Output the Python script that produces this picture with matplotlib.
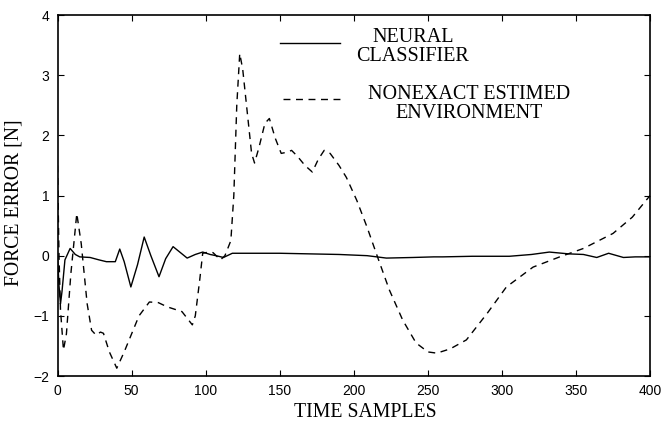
import matplotlib
matplotlib.use("Agg")
import matplotlib.pyplot as plt

# Neural classifier (solid)
neural_x = [0, 1, 2, 3, 5, 8.5, 12, 15, 22, 28, 33, 39, 42, 45, 49.5, 54, 58.5, 63, 68.5, 73, 78, 83, 87.5, 93, 98, 103, 107,
            112, 118, 130, 150, 170, 190, 209, 222, 240, 254, 260, 280, 305, 320, 332, 345, 355, 364, 372, 382, 390, 400]
neural_y = [0.0, -0.5, -0.8, -0.6, -0.07, 0.12, 0.02, -0.02, -0.03, -0.07, -0.1, -0.1, 0.11, -0.1, -0.52, -0.15, 0.31, 0.0,
            -0.35, -0.05, 0.15, 0.05, -0.04, 0.02, 0.06, 0.02, 0.0, -0.03, 0.04, 0.04, 0.04, 0.03, 0.02, 0.0, -0.04, -0.03,
            -0.02, -0.02, -0.01, -0.01, 0.02, 0.06, 0.03, 0.02, -0.03, 0.04, -0.03, -0.02, -0.02]

# Nonexact estimated environment (dashed)
env_x = [0, 1, 2, 4, 6, 9, 13, 16, 20, 23, 26, 29, 31, 35, 40, 45, 50, 55, 62, 68, 74, 84, 91, 93, 96, 98, 102, 105,
         110, 113, 117, 119, 121, 123, 125, 128, 131, 133, 136, 140, 143, 147, 151, 155, 158, 162, 167, 172, 176, 180,
         184, 190, 195, 202, 209, 216, 224, 233, 242, 250, 256, 265, 276, 290, 303, 321, 339, 355, 375, 388, 400]
env_y = [1.5, 0.0, -0.9, -1.57, -1.3, -0.3, 0.7, 0.2, -0.8, -1.24, -1.32, -1.27, -1.29, -1.6, -1.87, -1.6, -1.3, -1.0,
         -0.77, -0.78, -0.85, -0.93, -1.15, -1.0, -0.4, 0.04, 0.06, 0.05, -0.07, 0.0, 0.25, 1.0, 2.5, 3.36, 3.1, 2.4, 1.7,
         1.54, 1.8, 2.2, 2.28, 1.95, 1.70, 1.72, 1.75, 1.65, 1.5, 1.39, 1.6, 1.75, 1.7, 1.5, 1.30, 0.92, 0.47, -0.02,
         -0.57, -1.07, -1.45, -1.6, -1.62, -1.55, -1.40, -0.96, -0.52, -0.19, -0.02, 0.12, 0.37, 0.64, 1.0]

x_ticks = [0, 50, 100, 150, 200, 250, 300, 350, 400]
y_ticks = [-2, -1, 0, 1, 2, 3, 4]

fig = plt.figure(figsize=(6.62, 4.24), dpi=100)
ax = fig.add_axes([0.0869, 0.1132, 0.8951, 0.8514])

ax.plot(neural_x, neural_y, color="black", lw=1.0)
ax.plot(env_x, env_y, color="black", lw=1.0, linestyle=(0, (5, 4)))

ax.set_xlim(0, 400)
ax.set_ylim(-2, 4)
ax.set_xticks(x_ticks)
ax.set_yticks(y_ticks)
ax.tick_params(direction="in", length=4, width=0.8, top=True, right=True,
               labelsize=10, pad=6)
for lab in ax.get_xticklabels() + ax.get_yticklabels():
    lab.set_fontfamily("Liberation Sans")
for s in ax.spines.values():
    s.set_linewidth(1.2)

ax.set_xlabel("TIME SAMPLES", fontfamily="Liberation Serif", fontsize=14.2)
ax.xaxis.set_label_coords(0.52, -0.074)
ax.set_ylabel("FORCE ERROR [N]", fontfamily="Liberation Serif", fontsize=14.2)
ax.yaxis.set_label_coords(-0.057, 0.479)

# Legend drawn manually in axes data coordinates
ax.plot([150, 191], [3.53, 3.53], color="black", lw=1.0)
ax.text(240, 3.47, "NEURAL\nCLASSIFIER", ha="center", va="center", fontfamily="Liberation Serif",
        fontsize=14.5, linespacing=0.97)
ax.plot([152, 194], [2.6, 2.6], color="black", lw=1.0, linestyle=(0, (5, 4)))
ax.text(278, 2.52, "NONEXACT ESTIMED\nENVIRONMENT", ha="center", va="center", fontfamily="Liberation Serif",
        fontsize=14.5, linespacing=0.97)

fig.savefig("out.png", dpi=100)
